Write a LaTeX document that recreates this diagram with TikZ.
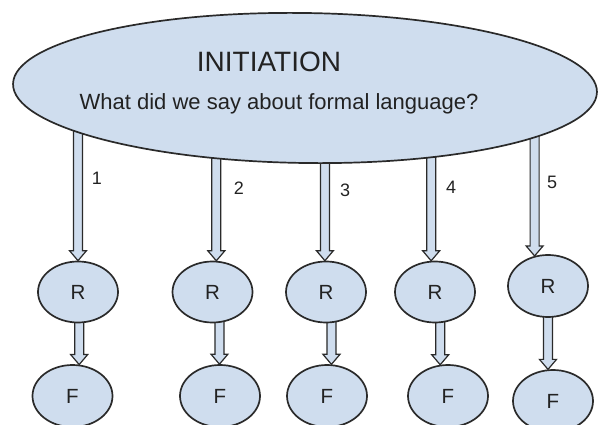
\documentclass[tikz,border=0pt]{standalone}
\usepackage{fontspec}
\setmainfont{Liberation Sans}
\usetikzlibrary{shapes.geometric,calc}
\definecolor{bubble}{HTML}{CFDDEE}
\definecolor{ink}{HTML}{222222}
\definecolor{edge}{HTML}{2A2A2A}
\pgfdeclarelayer{bg}
\pgfsetlayers{bg,main}
\tikzset{
  bubblenode/.style={ellipse, draw=edge, fill=bubble, line width=1.7pt,
    inner sep=0pt, text=ink},
  smallbubble/.style={bubblenode, minimum width=80pt, minimum height=61pt,
    font=\fontsize{20.5}{22}\selectfont},
  numlabel/.style={text=ink, inner sep=0pt, font=\fontsize{18}{20}\selectfont},
  % hollow block arrow: shaft starts inside the source, tip on the target border
  blockarrow/.style={draw=edge, fill=bubble, line width=1.2pt, line join=miter,
    to path={let \p1=(\tikztostart), \p2=(\tikztotarget) in
      ({\x2-4.5pt},{\y1}) -- ({\x2-4.5pt},{\y2+10pt}) -- ({\x2-8.5pt},{\y2+10pt})
      -- (\x2,\y2) -- ({\x2+8.5pt},{\y2+10pt}) -- ({\x2+4.5pt},{\y2+10pt})
      -- ({\x2+4.5pt},{\y1}) -- cycle}},
}
\begin{document}
\begin{tikzpicture}[x=1pt,y=-1pt]
\useasboundingbox (0,0) rectangle (599,425);

% top bubble
\node[bubblenode, minimum width=584pt, minimum height=150pt, rotate=-0.8]
  (init) at (305,88) {};
\node[text=ink, inner sep=0pt, font=\fontsize{28}{30}\selectfont]
  (title) at (269,62) {INITIATION};
\node[text=ink, inner sep=0pt, font=\fontsize{22}{24}\selectfont]
  (question) at (279,104) {What did we say about formal language?};

% response bubbles
\node[smallbubble] (r1) at (78,292) {R};
\node[smallbubble] (r2) at (212.5,292) {R};
\node[smallbubble] (r3) at (326,292) {R};
\node[smallbubble] (r4) at (435,292) {R};
\node[smallbubble, minimum height=62pt] (r5) at (548,286) {R};

% feedback bubbles
\node[smallbubble, minimum height=62pt] (f1) at (72.5,396) {F};
\node[smallbubble, minimum height=62pt] (f2) at (220,396) {F};
\node[smallbubble, minimum height=62pt] (f3) at (327,396) {F};
\node[smallbubble, minimum height=62pt] (f4) at (448,396) {F};
\node[smallbubble, minimum height=62pt] (f5) at (553,401) {F};

% move numbers
\node[numlabel] (n1) at (97,178) {1};
\node[numlabel] (n2) at (239,188) {2};
\node[numlabel] (n3) at (345,190) {3};
\node[numlabel] (n4) at (451,187) {4};
\node[numlabel] (n5) at (552,182) {5};

% arrows sit behind the bubbles
\begin{pgfonlayer}{bg}
\draw[blockarrow] (init.center) to (r1.north);
\draw[blockarrow] (init.center) to (r2.83.4);
\draw[blockarrow] (init.center) to (r3.92);
\draw[blockarrow] (init.center) to (r4.97.5);
\draw[blockarrow] (init.center) to (r5.114.3);

\draw[blockarrow] (r1.center) to (f1.78);
\draw[blockarrow] (r2.center) to (f2.91.9);
\draw[blockarrow] (r3.center) to (f3.82.6);
\draw[blockarrow] (r4.center) to (f4.104.8);
\draw[blockarrow] (r5.center) to (f5.99.2);
\end{pgfonlayer}
\end{tikzpicture}
\end{document}
